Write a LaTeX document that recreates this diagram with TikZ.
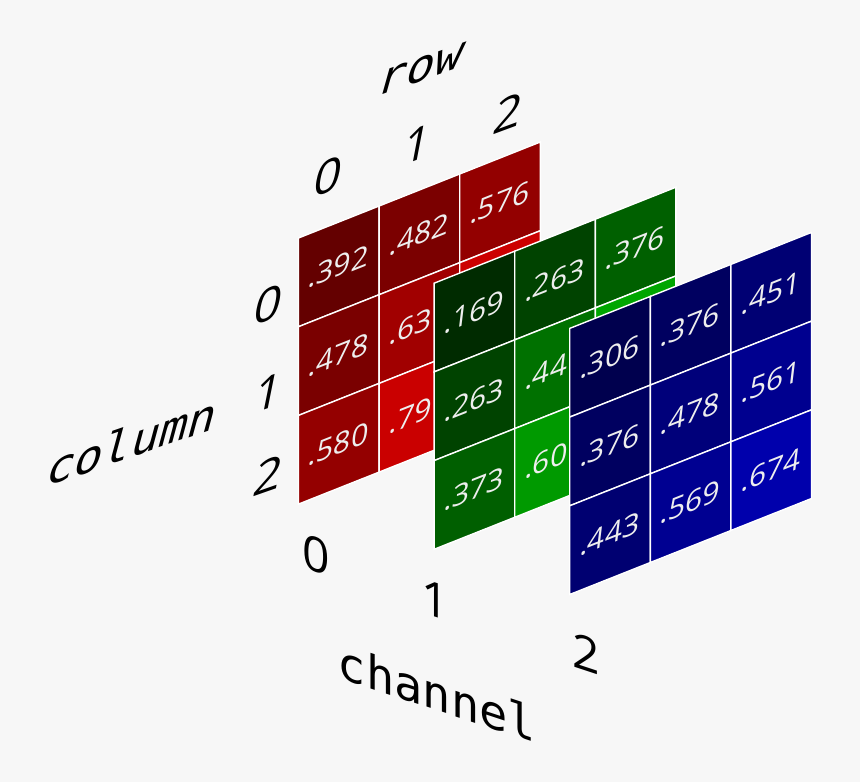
\documentclass[tikz,border=0pt]{standalone}
\usepackage{fontspec}
\setmainfont{Open Sans}
\newfontfamily\monof{DejaVu Sans Mono}
\usetikzlibrary{calc}
\definecolor{bg}{HTML}{F7F7F7}
\definecolor{numc}{HTML}{EEEEEE}
\tikzset{
  cellbox/.style={draw=white, line width=1.4pt, line join=miter},
  num/.style={text=numc, font=\fontsize{30}{30}\selectfont, inner sep=0pt, cm={1,0.397,0.12,1,(0,0)}},
  lab/.style={text=black, font=\fontsize{48}{48}\selectfont, inner sep=0pt},
  mono/.style={text=black, font=\monof\fontsize{47}{47}\selectfont, inner sep=0pt},
  rowplane/.style={cm={1,0.37,0.19,1,(0,0)}},
  colplane/.style={cm={1,0.35,0.2,1,(0,0)}},
  chplane/.style={cm={1,-0.33,0,1,(0,0)}}
}
\newcommand\mycell[7]{%
  \pgfmathsetmacro\xa{298.5+135.6*#1+80.6*#3}%
  \pgfmathsetmacro\ya{238+45.2*#1-32*#3+88.7*#2}%
  \definecolor{cc}{rgb}{#4,#5,#6}%
  \filldraw[cellbox, fill=cc] (\xa,\ya) -- ++(80.6,-32) -- ++(0,88.7) -- ++(-80.6,32) -- cycle;
  \node[num] (n#1#2#3) at (\xa+40.3,\ya+28.35) {#7};
}
\begin{document}
\begin{tikzpicture}[x=1pt,y=-1pt]
\fill[bg] (0,0) rectangle (860,782);
\useasboundingbox (0,0) rectangle (860,782);
% red channel
\mycell{0}{0}{0}{0.392}{0}{0}{.392}
\mycell{0}{0}{1}{0.482}{0}{0}{.482}
\mycell{0}{0}{2}{0.576}{0}{0}{.576}
\mycell{0}{1}{0}{0.478}{0}{0}{.478}
\mycell{0}{1}{1}{0.631}{0}{0}{.63\phantom{1}}
\mycell{0}{1}{2}{0.80}{0}{0}{}
\mycell{0}{2}{0}{0.580}{0}{0}{.580}
\mycell{0}{2}{1}{0.792}{0}{0}{.79\phantom{2}}
\mycell{0}{2}{2}{0.90}{0}{0}{}
% green channel
\mycell{1}{0}{0}{0}{0.169}{0}{.169}
\mycell{1}{0}{1}{0}{0.263}{0}{.263}
\mycell{1}{0}{2}{0}{0.376}{0}{.376}
\mycell{1}{1}{0}{0}{0.263}{0}{.263}
\mycell{1}{1}{1}{0}{0.443}{0}{.44\phantom{3}}
\mycell{1}{1}{2}{0}{0.65}{0}{}
\mycell{1}{2}{0}{0}{0.373}{0}{.373}
\mycell{1}{2}{1}{0}{0.604}{0}{.60\phantom{4}}
\mycell{1}{2}{2}{0}{0.75}{0}{}
% blue channel
\mycell{2}{0}{0}{0}{0}{0.306}{.306}
\mycell{2}{0}{1}{0}{0}{0.376}{.376}
\mycell{2}{0}{2}{0}{0}{0.451}{.451}
\mycell{2}{1}{0}{0}{0}{0.376}{.376}
\mycell{2}{1}{1}{0}{0}{0.478}{.478}
\mycell{2}{1}{2}{0}{0}{0.561}{.561}
\mycell{2}{2}{0}{0}{0}{0.443}{.443}
\mycell{2}{2}{1}{0}{0}{0.569}{.569}
\mycell{2}{2}{2}{0}{0}{0.674}{.674}
% axis labels
\node[mono, cm={1,0.357,0.28,1,(0,0)}] (lrow) at (421,70) {row};
\node[mono, cm={1,0.343,0.27,1,(0,0)}] (lcol) at (133,441) {column};
\node[mono, chplane] (lch) at (437,693) {channel};
\node[lab, rowplane] (r0) at (328.3,176) {0};
\node[lab, rowplane] (r1) at (417.3,144) {1};
\node[lab, rowplane] (r2) at (508.3,113.3) {2};
\node[lab, colplane] (c0) at (268.3,305) {0};
\node[lab, colplane] (c1) at (268.3,393) {1};
\node[lab, colplane] (c2) at (269,475.7) {2};
\node[lab, chplane] (k0) at (316.7,555) {0};
\node[lab, chplane] (k1) at (435.7,600) {1};
\node[lab, chplane] (k2) at (586.7,654) {2};
\end{tikzpicture}
\end{document}
